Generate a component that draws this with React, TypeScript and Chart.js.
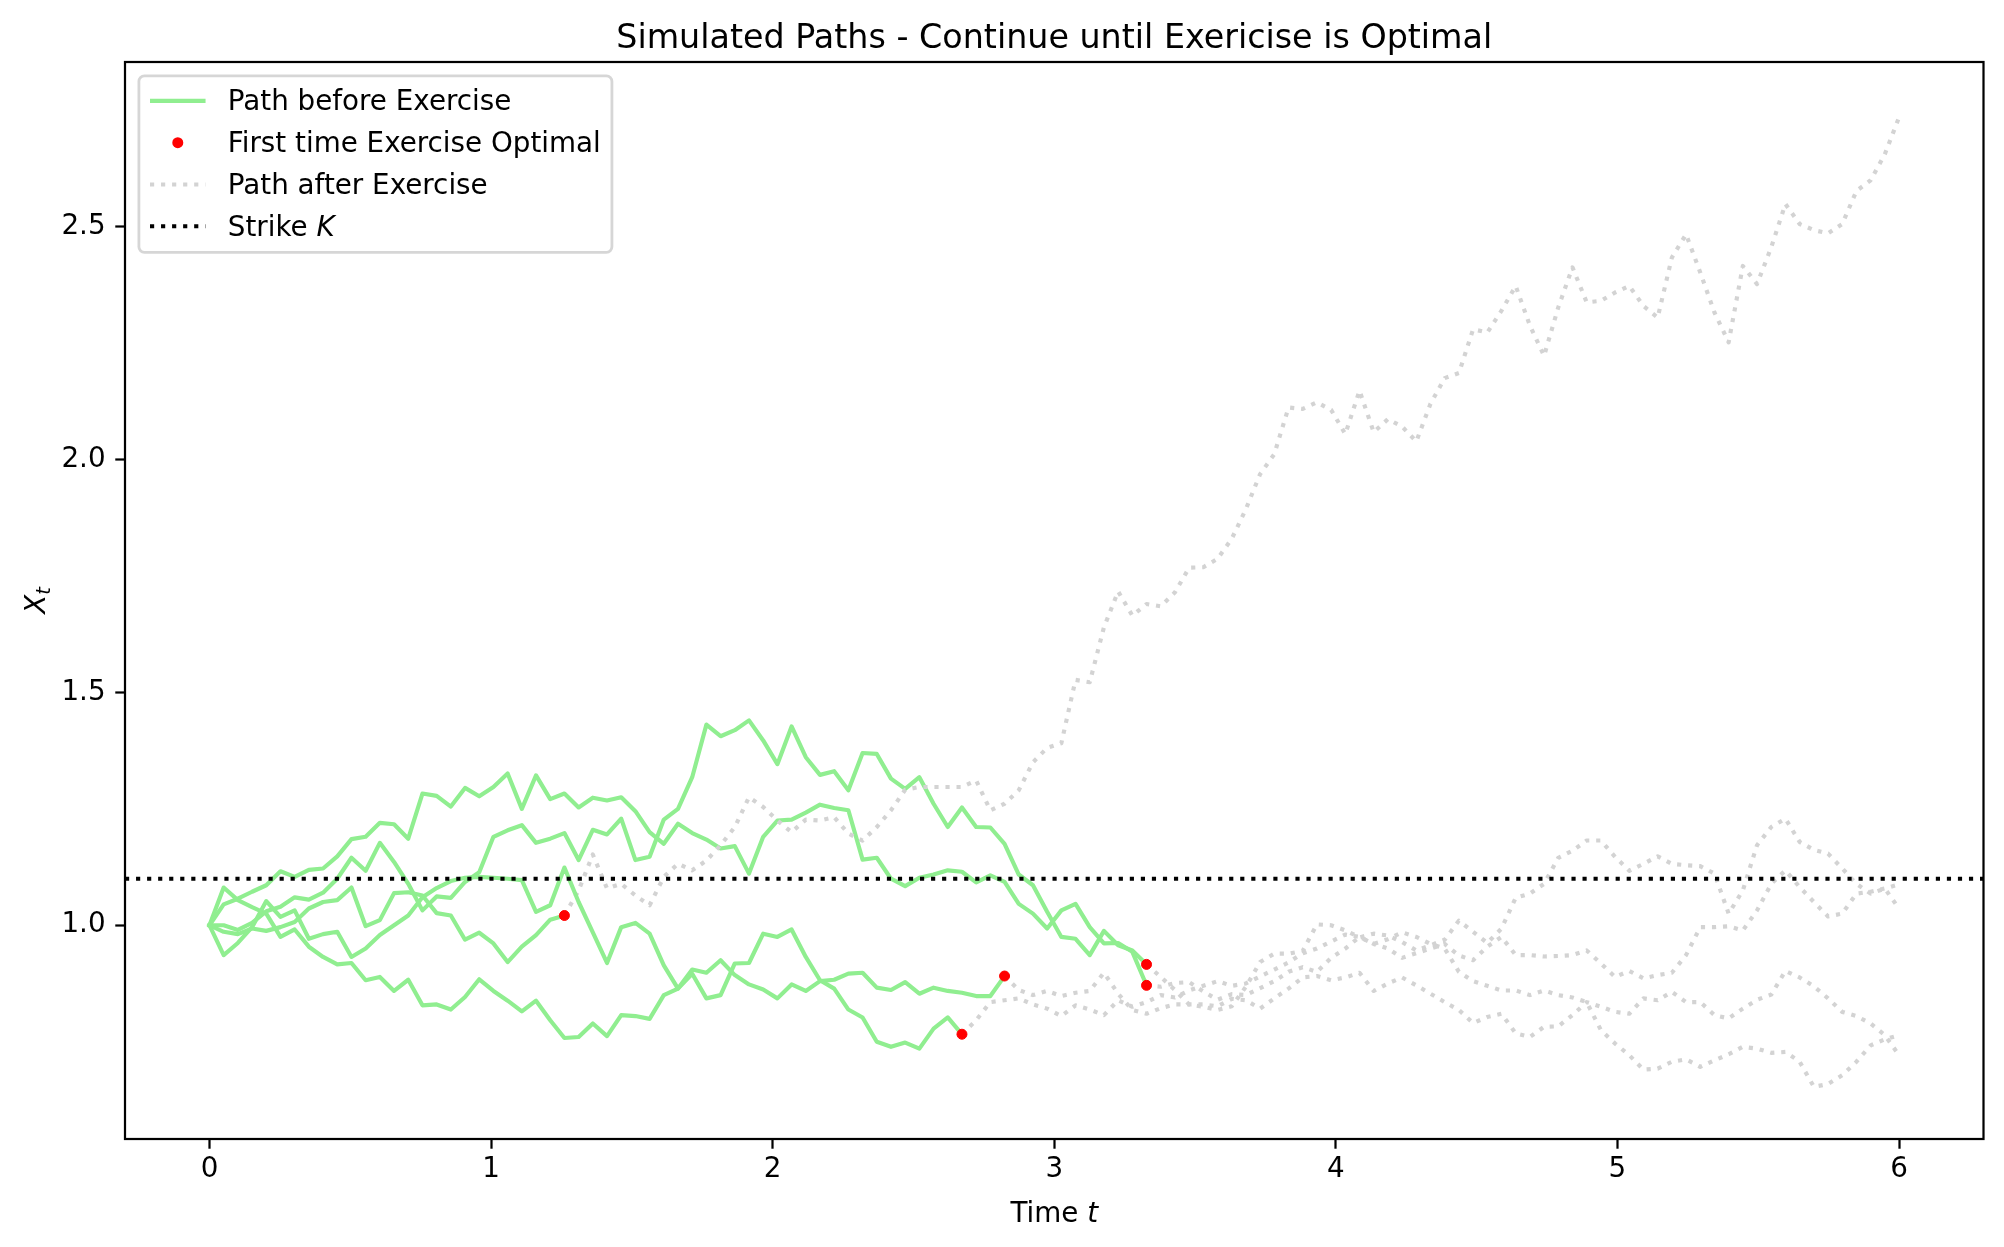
import React, { useEffect, useRef } from "react";
import { Chart, registerables } from "chart.js";

Chart.register(...registerables);

const TITLE = "Simulated Paths - Continue until Exericise is Optimal";
const T_MAX = 6;
const N_POINTS = 120;
const STRIKE = 1.1;
const X_MIN = -0.3;
const X_MAX = 6.3;
const Y_MIN = 0.541;
const Y_MAX = 2.854;
const X_TICKS = [0, 1, 2, 3, 4, 5, 6];
const Y_TICKS = [1.0, 1.5, 2.0, 2.5];

const LEGEND_LABELS = ["Path before Exercise", "First time Exercise Optimal", "Path after Exercise", "Strike "];

// index (time step) at which exercise first becomes optimal, one per path
const EXERCISE_INDEX = [66, 66, 25, 53, 56];

const PATH_A = [
  1.0, 1.0, 0.99, 1.005, 1.03, 1.04, 1.06, 1.055, 1.07, 1.1,
  1.145, 1.117, 1.177, 1.136, 1.089, 1.032, 1.062, 1.059, 1.093, 1.114,
  1.19, 1.204, 1.215, 1.177, 1.186, 1.198, 1.14, 1.205, 1.195, 1.229,
  1.14, 1.147, 1.227, 1.25, 1.318, 1.431, 1.406, 1.419, 1.44, 1.397,
  1.346, 1.427, 1.361, 1.323, 1.331, 1.29, 1.37, 1.368, 1.315, 1.293,
  1.318, 1.261, 1.211, 1.253, 1.211, 1.21, 1.175, 1.109, 1.086, 1.029,
  0.975, 0.971, 0.936, 0.988, 0.957, 0.946, 0.916, 0.889, 0.861, 0.83,
  0.825, 0.818, 0.826, 0.868, 0.921, 0.939, 0.939, 0.945, 1.002, 1.0,
  0.989, 0.974, 0.982, 0.978, 0.964, 0.946, 0.957, 0.969, 1.01, 0.986,
  0.962, 0.993, 1.059, 1.068, 1.089, 1.145, 1.16, 1.182, 1.182, 1.147,
  1.117, 1.132, 1.148, 1.132, 1.129, 1.127, 1.111, 1.025, 1.075, 1.172,
  1.211, 1.229, 1.179, 1.162, 1.154, 1.122, 1.089, 1.068, 1.079, 1.036,
];

const PATH_B = [
  1.0, 1.045, 1.057, 1.072, 1.086, 1.116, 1.104, 1.119, 1.122, 1.148,
  1.185, 1.19, 1.22, 1.217, 1.186, 1.283, 1.278, 1.255, 1.295, 1.277,
  1.297, 1.326, 1.25, 1.322, 1.271, 1.283, 1.253, 1.274, 1.268, 1.275,
  1.245, 1.2, 1.175, 1.218, 1.198, 1.184, 1.165, 1.17, 1.111, 1.19,
  1.225, 1.227, 1.242, 1.259, 1.252, 1.247, 1.141, 1.145, 1.1, 1.084,
  1.102, 1.109, 1.118, 1.115, 1.092, 1.107, 1.093, 1.046, 1.025, 0.993,
  1.032, 1.046, 0.996, 0.961, 0.962, 0.943, 0.871, 0.868, 0.876, 0.878,
  0.858, 0.84, 0.852, 0.85, 0.865, 0.88, 0.9, 0.91, 0.9, 0.93,
  0.95, 0.975, 0.96, 0.95, 0.93, 0.94, 0.95, 0.96, 0.935, 0.925,
  0.954, 0.975, 0.936, 0.936, 0.933, 0.934, 0.936, 0.946, 0.918, 0.889,
  0.902, 0.886, 0.893, 0.898, 0.936, 0.996, 0.996, 0.998, 0.989, 1.032,
  1.089, 1.118, 1.082, 1.05, 1.019, 1.025, 1.068, 1.072, 1.079, 1.088,
];

const PATH_C = [
  1.0, 0.986, 0.981, 0.993, 0.988, 0.996, 1.007, 1.036, 1.05, 1.054,
  1.081, 0.998, 1.011, 1.069, 1.071, 1.064, 1.026, 1.021, 0.969, 0.984,
  0.961, 0.921, 0.954, 0.979, 1.012, 1.021, 1.075, 1.152, 1.079, 1.089,
  1.064, 1.043, 1.104, 1.132, 1.118, 1.139, 1.172, 1.211, 1.275, 1.254,
  1.225, 1.2, 1.227, 1.225, 1.232, 1.197, 1.182, 1.211, 1.247, 1.291,
  1.297, 1.297, 1.297, 1.297, 1.311, 1.247, 1.261, 1.29, 1.35, 1.381,
  1.391, 1.527, 1.522, 1.64, 1.717, 1.665, 1.69, 1.685, 1.715, 1.768,
  1.769, 1.787, 1.83, 1.894, 1.969, 2.012, 2.112, 2.109, 2.123, 2.107,
  2.055, 2.148, 2.059, 2.087, 2.071, 2.039, 2.12, 2.175, 2.186, 2.28,
  2.273, 2.32, 2.373, 2.288, 2.223, 2.327, 2.413, 2.338, 2.341, 2.359,
  2.373, 2.33, 2.305, 2.434, 2.484, 2.402, 2.316, 2.252, 2.416, 2.377,
  2.456, 2.549, 2.506, 2.493, 2.486, 2.506, 2.577, 2.6, 2.656, 2.735,
];

const PATH_D = [
  1.0, 1.081, 1.054, 1.039, 1.025, 0.975, 0.991, 0.954, 0.932, 0.916,
  0.919, 0.882, 0.889, 0.859, 0.883, 0.828, 0.83, 0.819, 0.846, 0.884,
  0.859, 0.838, 0.815, 0.838, 0.796, 0.758, 0.76, 0.789, 0.762, 0.807,
  0.805, 0.799, 0.85, 0.864, 0.896, 0.843, 0.85, 0.918, 0.919, 0.982,
  0.975, 0.991, 0.932, 0.882, 0.864, 0.819, 0.802, 0.75, 0.739, 0.748,
  0.735, 0.778, 0.802, 0.766, 0.796, 0.835, 0.839, 0.843, 0.83, 0.821,
  0.805, 0.828, 0.819, 0.807, 0.839, 0.825, 0.835, 0.85, 0.845, 0.86,
  0.87, 0.88, 0.87, 0.875, 0.89, 0.905, 0.92, 0.94, 0.95, 0.965,
  0.98, 0.975, 0.96, 0.97, 0.985, 0.975, 0.96, 0.95, 0.9, 0.88,
  0.87, 0.86, 0.86, 0.85, 0.86, 0.85, 0.845, 0.835, 0.775, 0.746,
  0.721, 0.69, 0.692, 0.707, 0.712, 0.696, 0.71, 0.723, 0.739, 0.735,
  0.726, 0.728, 0.707, 0.653, 0.659, 0.678, 0.707, 0.742, 0.755, 0.764,
];

const PATH_E = [
  1.0, 0.936, 0.962, 0.996, 1.052, 1.018, 1.032, 0.971, 0.981, 0.986,
  0.932, 0.95, 0.979, 1.0, 1.021, 1.06, 1.08, 1.095, 1.102, 1.104,
  1.102, 1.1, 1.097, 1.029, 1.043, 1.124, 1.05, 0.985, 0.919, 0.996,
  1.005, 0.982, 0.914, 0.864, 0.905, 0.898, 0.925, 0.893, 0.873, 0.862,
  0.843, 0.873, 0.859, 0.88, 0.883, 0.896, 0.898, 0.866, 0.861, 0.878,
  0.853, 0.866, 0.859, 0.855, 0.848, 0.848, 0.891, 0.861, 0.85, 0.859,
  0.848, 0.855, 0.859, 0.898, 0.853, 0.818, 0.81, 0.822, 0.83, 0.83,
  0.83, 0.826, 0.842, 0.839, 0.821, 0.843, 0.864, 0.888, 0.891, 0.882,
  0.888, 0.898, 0.859, 0.875, 0.888, 0.871, 0.853, 0.835, 0.818, 0.79,
  0.803, 0.81, 0.768, 0.76, 0.782, 0.783, 0.807, 0.835, 0.825, 0.814,
  0.81, 0.843, 0.839, 0.857, 0.835, 0.835, 0.807, 0.8, 0.821, 0.84,
  0.851, 0.902, 0.888, 0.869, 0.843, 0.814, 0.805, 0.789, 0.764, 0.721,
];

const PATHS = [PATH_A, PATH_B, PATH_C, PATH_D, PATH_E];

const GREEN = "#90ee90";
const GRAY = "#d3d3d3";
const RED = "#ff0000";
const PT = 200 / 72;
const FS = 10 * PT;
const TITLE_FS = 12 * PT;
const LW = 1.5 * PT;
const DOT_DASH = [1 * LW, 1.65 * LW];
const FONT = '"DejaVu Sans", "Liberation Sans", sans-serif';

const TIMES = Array.from({ length: N_POINTS }, (_, i) => (i * T_MAX) / (N_POINTS - 1));

function buildDatasets() {
  const sets: any[] = [];
  let seq = 0;
  PATHS.forEach((path, k) => {
    const ex = EXERCISE_INDEX[k];
    const pts = path.map((v, i) => ({ x: TIMES[i], y: v }));
    sets.push({
      label: "before" + k,
      data: pts.slice(0, ex + 1),
      borderColor: GREEN,
      borderWidth: LW,
      pointRadius: 0,
      borderJoinStyle: "round",
      borderCapStyle: "square",
      fill: false,
      order: -seq++,
    });
    sets.push({
      label: "after" + k,
      data: pts.slice(ex),
      borderColor: GRAY,
      borderWidth: LW,
      borderDash: DOT_DASH,
      borderCapStyle: "butt",
      borderJoinStyle: "round",
      pointRadius: 0,
      fill: false,
      order: -seq++,
    });
    sets.push({
      label: "ex" + k,
      data: [pts[ex]],
      showLine: false,
      pointStyle: "circle",
      pointRadius: 5,
      pointBackgroundColor: RED,
      pointBorderWidth: 1,
      pointBorderColor: RED,
      order: -seq++,
    });
  });
  sets.push({
    label: "strike",
    data: [
      { x: X_MIN, y: STRIKE },
      { x: X_MAX, y: STRIKE },
    ],
    borderColor: "#000000",
    borderWidth: LW,
    borderDash: DOT_DASH,
    borderCapStyle: "butt",
    pointRadius: 0,
    fill: false,
    order: -1000,
  });
  return sets;
}

const overlayPlugin = {
  id: "overlay",
  beforeDraw(chart: any) {
    const ctx = chart.ctx;
    ctx.save();
    ctx.fillStyle = "#ffffff";
    ctx.fillRect(0, 0, chart.width, chart.height);
    ctx.restore();
  },
  afterDatasetsDraw(chart: any) {
    const ctx = chart.ctx;
    const a = chart.chartArea;
    ctx.save();
    ctx.strokeStyle = "#000000";
    ctx.lineWidth = 0.8 * PT;
    ctx.setLineDash([]);
    ctx.strokeRect(a.left, a.top, a.right - a.left, a.bottom - a.top);
    ctx.restore();
  },
  afterDraw(chart: any) {
    const ctx = chart.ctx;
    const a = chart.chartArea;
    const cx = (a.left + a.right) / 2;
    const cy = (a.top + a.bottom) / 2;
    ctx.save();
    ctx.fillStyle = "#000000";
    ctx.textBaseline = "alphabetic";

    // title
    ctx.font = `${TITLE_FS}px ${FONT}`;
    ctx.textAlign = "center";
    ctx.fillText(TITLE, cx, a.top - 6 * PT + 2.5);

    // x label: "Time t"
    ctx.textAlign = "left";
    ctx.font = `${FS}px ${FONT}`;
    const w1 = ctx.measureText("Time ").width;
    ctx.font = `italic ${FS}px ${FONT}`;
    const w2 = ctx.measureText("t").width;
    const x0 = cx - (w1 + w2) / 2;
    const xlBase = a.bottom + 82.5;
    ctx.font = `${FS}px ${FONT}`;
    ctx.fillText("Time ", x0, xlBase);
    ctx.font = `italic ${FS}px ${FONT}`;
    ctx.fillText("t", x0 + w1, xlBase);

    // y label: X_t
    ctx.save();
    ctx.translate(44.8, cy);
    ctx.rotate(-Math.PI / 2);
    ctx.font = `italic ${FS}px ${FONT}`;
    const wX = ctx.measureText("X").width;
    const subFs = FS * 0.7;
    ctx.font = `italic ${subFs}px ${FONT}`;
    const wT = ctx.measureText("t").width;
    const tot = wX + wT;
    ctx.font = `italic ${FS}px ${FONT}`;
    ctx.fillText("X", -tot / 2, 0);
    ctx.font = `italic ${subFs}px ${FONT}`;
    ctx.fillText("t", -tot / 2 + wX, 5.5);
    ctx.restore();

    // legend
    const pad = 0.5 * FS;
    const bx = a.left + pad;
    const by = a.top + pad;
    const hx0 = bx + 0.4 * FS;
    const hx1 = hx0 + 2 * FS;
    const tx = hx1 + 0.8 * FS;
    ctx.font = `${FS}px ${FONT}`;
    let maxW = 0;
    LEGEND_LABELS.forEach((l, i) => {
      let w = ctx.measureText(l).width;
      if (i === 3) {
        ctx.font = `italic ${FS}px ${FONT}`;
        w += ctx.measureText("K").width;
        ctx.font = `${FS}px ${FONT}`;
      }
      maxW = Math.max(maxW, w);
    });
    const bw = tx + maxW + 0.4 * FS - bx;
    const bh = 176.5;
    const r = 0.2 * FS;
    ctx.beginPath();
    ctx.moveTo(bx + r, by);
    ctx.lineTo(bx + bw - r, by);
    ctx.arcTo(bx + bw, by, bx + bw, by + r, r);
    ctx.lineTo(bx + bw, by + bh - r);
    ctx.arcTo(bx + bw, by + bh, bx + bw - r, by + bh, r);
    ctx.lineTo(bx + r, by + bh);
    ctx.arcTo(bx, by + bh, bx, by + bh - r, r);
    ctx.lineTo(bx, by + r);
    ctx.arcTo(bx, by, bx + r, by, r);
    ctx.closePath();
    ctx.fillStyle = "rgba(255,255,255,0.8)";
    ctx.fill();
    ctx.strokeStyle = "rgba(204,204,204,0.8)";
    ctx.lineWidth = 1.0 * PT;
    ctx.stroke();

    const rows = [0, 1, 2, 3].map((i) => by + 25 + i * 41.8);
    // handles
    ctx.lineWidth = LW;
    ctx.setLineDash([]);
    ctx.lineCap = "butt";
    ctx.strokeStyle = GREEN;
    ctx.beginPath();
    ctx.moveTo(hx0, rows[0]);
    ctx.lineTo(hx1, rows[0]);
    ctx.stroke();

    ctx.fillStyle = RED;
    ctx.beginPath();
    ctx.arc((hx0 + hx1) / 2, rows[1], 5.5, 0, Math.PI * 2);
    ctx.fill();

    ctx.setLineDash(DOT_DASH);
    ctx.strokeStyle = GRAY;
    ctx.beginPath();
    ctx.moveTo(hx0, rows[2]);
    ctx.lineTo(hx1, rows[2]);
    ctx.stroke();

    ctx.strokeStyle = "#000000";
    ctx.beginPath();
    ctx.moveTo(hx0, rows[3]);
    ctx.lineTo(hx1, rows[3]);
    ctx.stroke();
    ctx.setLineDash([]);

    ctx.fillStyle = "#000000";
    ctx.textAlign = "left";
    LEGEND_LABELS.forEach((l, i) => {
      ctx.font = `${FS}px ${FONT}`;
      ctx.fillText(l, tx, rows[i] + 9.3);
      if (i === 3) {
        const w = ctx.measureText(l).width;
        ctx.font = `italic ${FS}px ${FONT}`;
        ctx.fillText("K", tx + w, rows[i] + 9.3);
      }
    });

    ctx.restore();
  },
};

export default function App() {
  const ref = useRef<HTMLCanvasElement | null>(null);

  useEffect(() => {
    document.body.style.margin = "0";
    document.body.style.overflow = "hidden";
    const canvas = ref.current;
    if (!canvas) return;
    const chart = new Chart(canvas, {
      type: "line",
      data: { datasets: buildDatasets() },
      plugins: [overlayPlugin],
      options: {
        animation: false,
        responsive: false,
        devicePixelRatio: 1,
        events: [],
        layout: { padding: { left: 0, top: 62, right: 20.5, bottom: 0 } },
        plugins: {
          legend: { display: false },
          tooltip: { enabled: false },
          title: { display: false },
        },
        scales: {
          x: {
            type: "linear",
            min: X_MIN,
            max: X_MAX,
            afterFit: (s: any) => {
              s.height = 108;
            },
            afterBuildTicks: (s: any) => {
              s.ticks = X_TICKS.map((v) => ({ value: v }));
            },
            ticks: {
              color: "#000000",
              font: { family: FONT, size: FS },
              padding: 4.5,
              maxRotation: 0,
              autoSkip: false,
              callback: (v: any) => String(v),
            },
            grid: {
              display: true,
              drawOnChartArea: false,
              drawTicks: true,
              tickLength: 3.5 * PT,
              tickWidth: 0.8 * PT,
              tickColor: "#000000",
            },
            border: { display: false },
          },
          y: {
            type: "linear",
            min: Y_MIN,
            max: Y_MAX,
            afterFit: (s: any) => {
              s.width = 125;
            },
            afterBuildTicks: (s: any) => {
              s.ticks = Y_TICKS.map((v) => ({ value: v }));
            },
            ticks: {
              color: "#000000",
              font: { family: FONT, size: FS },
              padding: 3.5 * PT,
              autoSkip: false,
              callback: (v: any) => Number(v).toFixed(1),
            },
            grid: {
              display: true,
              drawOnChartArea: false,
              drawTicks: true,
              tickLength: 3.5 * PT,
              tickWidth: 0.8 * PT,
              tickColor: "#000000",
            },
            border: { display: false },
          },
        },
      } as any,
    });
    return () => chart.destroy();
  }, []);

  return (
    <canvas
      ref={ref}
      width={2004}
      height={1247}
      style={{ display: "block", width: "2004px", height: "1247px" }}
    />
  );
}
